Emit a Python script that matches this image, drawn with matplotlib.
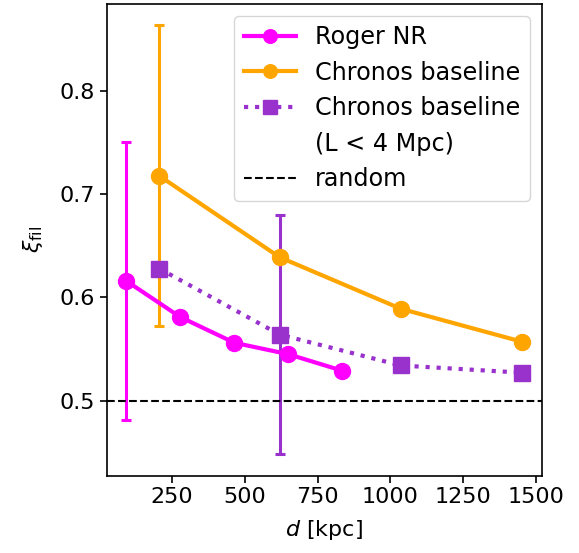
import numpy as np
import matplotlib
matplotlib.use("Agg")
import matplotlib.pyplot as plt

# Roger NR
roger_d = [94, 279, 465, 649, 834]
roger_xi = [0.616, 0.581, 0.556, 0.545, 0.529]
roger_err = [0.135, 0, 0, 0, 0]

# Chronos baseline
chronos_d = [207, 620, 1036, 1452]
chronos_xi = [0.718, 0.639, 0.589, 0.557]
chronos_err = [0.146, 0, 0, 0]

# Chronos baseline, L < 4 Mpc
short_d = [207, 620, 1036, 1452]
short_xi = [0.628, 0.564, 0.534, 0.527]
short_err = [0, 0.116, 0, 0]

random_xi = 0.5

fig = plt.figure(figsize=(5.79, 5.53), dpi=100)
ax = fig.add_axes([0.184, 0.14, 0.752, 0.853])

lw = 3
ms = 11.5

# error bars only where they are non-zero
for d, xi, err, col in [(roger_d, roger_xi, roger_err, "magenta"),
                        (chronos_d, chronos_xi, chronos_err, "orange"),
                        (short_d, short_xi, short_err, "darkorchid")]:
    d, xi, err = np.array(d), np.array(xi), np.array(err)
    m = err > 0
    ax.errorbar(d[m], xi[m], yerr=err[m], fmt="none", ecolor=col,
                elinewidth=2.2, capsize=3.5, capthick=2.2)

ax.plot(roger_d, roger_xi, "-o", color="magenta", lw=lw, ms=ms, label="Roger NR")
ax.plot(chronos_d, chronos_xi, "-o", color="orange", lw=lw, ms=ms,
        label="Chronos baseline")
ax.plot(short_d, short_xi, ":s", color="darkorchid", lw=lw, ms=ms,
        label="Chronos baseline")
# second line of the label as its own (empty) legend row
ax.plot([], [], color="none", label="(L < 4 Mpc)")
ax.axhline(random_xi, color="k", ls="--", lw=1.5, label="random")

ax.set_xticks([250, 500, 750, 1000, 1250, 1500])
ax.set_yticks([0.5, 0.6, 0.7, 0.8])
ax.tick_params(labelsize=16, width=1.2, length=5)
for s in ax.spines.values():
    s.set_linewidth(1.2)

ax.set_xlabel(r"$d$ [kpc]", fontsize=16, labelpad=8)
ax.set_ylabel(r"$\xi_{\rm fil}$", fontsize=16, labelpad=10)

ax.legend(loc="upper right", fontsize=17.2, handlelength=2.2,
          markerscale=0.85, labelspacing=0.48)

fig.savefig("out.png", dpi=100)
